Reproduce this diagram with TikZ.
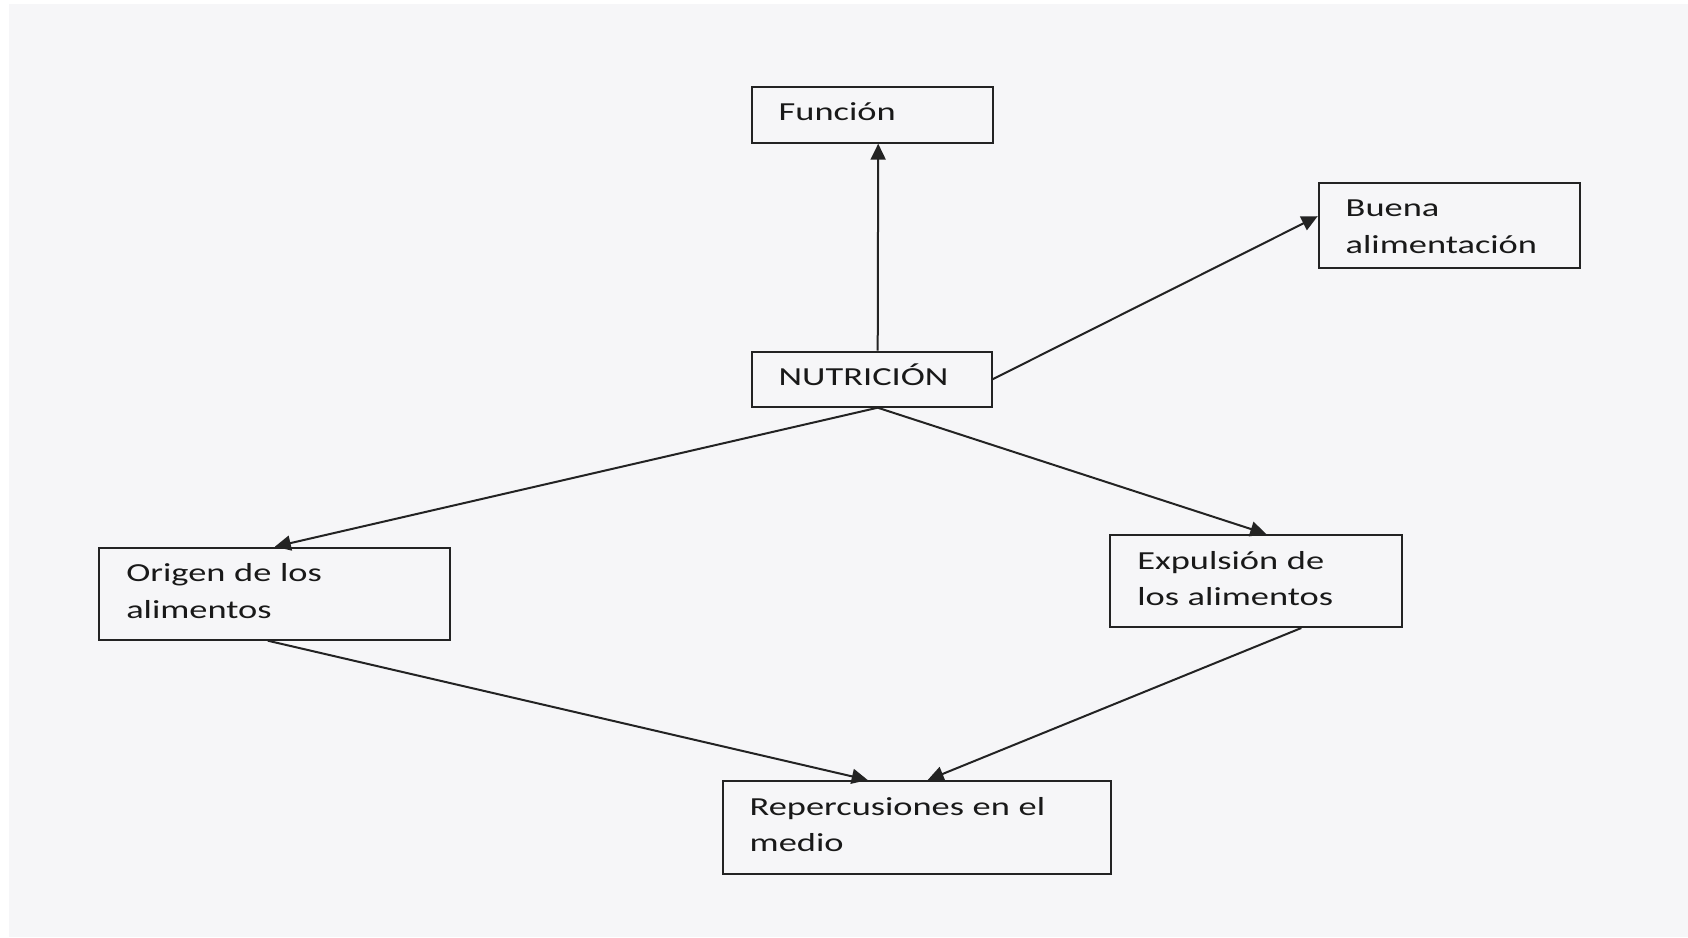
\documentclass[tikz,border=0pt]{standalone}
\usepackage{fontspec}
\setmainfont[FakeStretch=1.4]{Carlito}
\usetikzlibrary{arrows.meta,calc}
\definecolor{paper}{RGB}{246,246,248}
\definecolor{ink}{RGB}{35,35,35}
\definecolor{txt}{RGB}{25,25,25}
\tikzset{
  box/.style={draw=ink, line width=2pt, anchor=north west, inner xsep=27pt, inner ysep=0pt,
    align=left, text height=34pt, text=txt, font=\fontsize{26pt}{36.5pt}\selectfont},
  conn/.style={draw=ink, line width=2pt, -{Triangle[length=16pt,width=15pt]}}
}
\begin{document}
\begin{tikzpicture}[x=1pt,y=-1pt]
\useasboundingbox (0,0) rectangle (1688,937);
\fill[white] (0,0) rectangle (1688,937);
\fill[paper] (9,4) rectangle (1688,937);

\node[box, text width=187pt, text depth=22pt] (fun) at (750.7,85.7) {Función};
\node[box, text width=186pt, text depth=21pt] (nut) at (750.7,350.7) {NUTRICIÓN};
\node[box, text width=207pt, text depth=51pt] (bue) at (1317.7,181.7) {Buena\\alimentación};
\node[box, text width=297pt, text depth=58pt] (ori) at (98.3,546.7) {Origen de los\\alimentos};
\node[box, text width=238pt, text depth=58pt] (exp) at (1109.3,534) {Expulsión de\\los alimentos};
\node[box, text width=334pt, text depth=58.5pt] (rep) at (721.7,780) {Repercusiones en el\\medio};

\draw[conn] ($(nut.north)+(6,0)$) -- ($(fun.south)+(6,0)$);
\draw[conn] (nut.east) -- ($(bue.west)+(0,-9)$);
\draw[conn] ($(nut.south)+(6,0)$) -- (ori.north);
\draw[conn] ($(nut.south)+(6,0)$) -- ($(exp.north)+(10,0)$);
\draw[conn] ($(ori.south)+(-7,0)$) -- ($(rep.north)+(-49,0)$);
\draw[conn] ($(exp.south)+(45,0)$) -- ($(rep.north)+(11,0)$);
\end{tikzpicture}
\end{document}
